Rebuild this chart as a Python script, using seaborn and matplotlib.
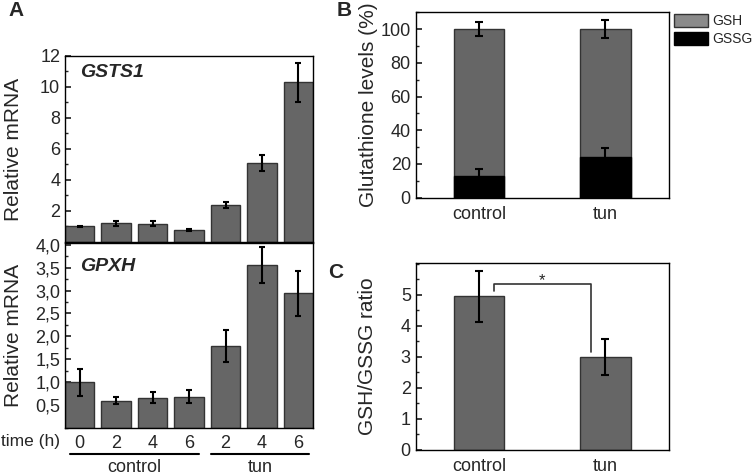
import numpy as np
import pandas as pd
import matplotlib
matplotlib.use("Agg")
import matplotlib.pyplot as plt
import seaborn as sns
from matplotlib.ticker import MultipleLocator, FuncFormatter
from matplotlib.patches import Patch
import matplotlib.transforms as mtransforms

# ----------------------------------------------------------------------
# Data
# ----------------------------------------------------------------------
time_labels = ["0", "2", "4", "6", "2", "4", "6"]
groups = ["control", "control", "control", "control", "tun", "tun", "tun"]

gsts1_mean = [1.0, 1.22, 1.18, 0.79, 2.40, 5.09, 10.3]
gsts1_err = [0.05, 0.16, 0.15, 0.05, 0.18, 0.52, 1.24]

gpxh_mean = [0.99, 0.59, 0.66, 0.68, 1.78, 3.56, 2.94]
gpxh_err = [0.30, 0.08, 0.12, 0.15, 0.35, 0.40, 0.50]

treatments = ["control", "tun"]
gsh_total = [100, 100]
gsh_err = [4.2, 5.2]
gssg_pct = [13.1, 24.2]
gssg_err = [4.0, 5.0]

ratio_mean = [4.95, 3.0]
ratio_err = [0.81, 0.59]

BAR = "#666666"
EDGE = "#333333"

sns.set_theme(style="ticks")
plt.rcParams["font.family"] = ["Liberation Sans", "DejaVu Sans"]
plt.rcParams.update({
    "axes.linewidth": 1.0,
    "axes.edgecolor": "black",
    "xtick.direction": "in",
    "ytick.direction": "in",
    "ytick.major.size": 4,
    "ytick.minor.size": 2,
    "ytick.labelsize": 13,
    "xtick.labelsize": 13,
})

fig = plt.figure(figsize=(7.54, 4.76), dpi=100)
axA1 = fig.add_axes([0.0862, 0.4916, 0.329, 0.3908])
axA2 = fig.add_axes([0.0862, 0.1015, 0.329, 0.3887])
axB = fig.add_axes([0.5513, 0.5847, 0.3355, 0.3895])
axC = fig.add_axes([0.5513, 0.0553, 0.3355, 0.3915])

ids = [f"{g} {t}" for g, t in zip(groups, time_labels)]
x7 = np.arange(len(ids))


def bar_panel(ax, means, errs, label, label_y):
    df = pd.DataFrame({"id": ids, "value": means})
    sns.barplot(data=df, x="id", y="value", order=ids, color=BAR,
                saturation=1, edgecolor=EDGE, linewidth=1, width=0.8,
                errorbar=None, ax=ax)
    ax.errorbar(x7, means, yerr=errs, fmt="none", ecolor="black",
                elinewidth=1.5, capsize=2.5, capthick=1.5)
    ax.set_xlim(-0.4, 6.4)
    ax.set_xlabel("")
    ax.set_ylabel("Relative mRNA", fontsize=15)
    ax.yaxis.set_label_coords(-0.17, 0.5)
    ax.tick_params(axis="x", length=0)
    ax.text(0.06, label_y, label, transform=ax.transAxes, fontsize=14,
            fontweight="bold", style="italic", va="center")
    for s in ax.spines.values():
        s.set_visible(True)


# A top: GSTS1
bar_panel(axA1, gsts1_mean, gsts1_err, "GSTS1", 0.91)
axA1.set_ylim(0, 12)
axA1.set_yticks([2, 4, 6, 8, 10, 12])
axA1.yaxis.set_minor_locator(MultipleLocator(1))
axA1.set_xticklabels([])

# A bottom: GPXH
bar_panel(axA2, gpxh_mean, gpxh_err, "GPXH", 0.87)
axA2.set_ylim(0, 4.05)
axA2.set_yticks(np.arange(0.5, 4.01, 0.5))
axA2.yaxis.set_minor_locator(MultipleLocator(0.25))
axA2.yaxis.set_major_formatter(FuncFormatter(lambda v, p: f"{v:.1f}".replace(".", ",")))
axA2.set_xticks(x7)
axA2.set_xticklabels(time_labels)
axA2.tick_params(axis="x", pad=5)

trans = mtransforms.blended_transform_factory(axA2.transData, axA2.transAxes)
axA2.text(-0.55, -0.075, "time (h)", transform=trans, ha="right",
          va="center", fontsize=12.5)
for (x0, x1), name in zip([(-0.25, 3.27), (3.6, 6.29)], treatments):
    axA2.plot([x0, x1], [-0.141, -0.141], transform=trans, color="black",
              lw=1.5, clip_on=False)
    axA2.text((x0 + x1) / 2, -0.215, name, transform=trans, ha="center",
              va="center", fontsize=13)

# B: glutathione levels, stacked
dfB = pd.DataFrame({"treatment": treatments, "GSH": gsh_total, "GSSG": gssg_pct})
sns.barplot(data=dfB, x="treatment", y="GSH", color=BAR, saturation=1,
            edgecolor=EDGE, linewidth=1, width=0.4, errorbar=None, ax=axB)
sns.barplot(data=dfB, x="treatment", y="GSSG", color="black", saturation=1,
            edgecolor="black", linewidth=1, width=0.4, errorbar=None, ax=axB)
axB.errorbar([0, 1], gsh_total, yerr=gsh_err, fmt="none", ecolor="black",
             elinewidth=1.5, capsize=3, capthick=1.5)
axB.errorbar([0, 1], gssg_pct, yerr=gssg_err, fmt="none", ecolor="black",
             elinewidth=1.5, capsize=3, capthick=1.5)
axB.set_xlim(-0.5, 1.5)
axB.set_ylim(0, 110)
axB.set_yticks(np.arange(0, 101, 20))
axB.yaxis.set_minor_locator(MultipleLocator(10))
axB.set_xlabel("")
axB.set_ylabel("Glutathione levels (%)", fontsize=15)
axB.yaxis.set_label_coords(-0.149, 0.5)
axB.tick_params(axis="x", length=0, pad=6)
handles = [Patch(facecolor="#8a8a8a", edgecolor=EDGE, label="GSH"),
           Patch(facecolor="black", edgecolor="black", label="GSSG")]
axB.legend(handles=handles, loc="upper left", bbox_to_anchor=(1.02, 0.99),
           frameon=False, fontsize=10, handlelength=2.45, handleheight=1.0,
           handletextpad=0.3, labelspacing=0.3, borderpad=0, borderaxespad=0)

# C: GSH/GSSG ratio
dfC = pd.DataFrame({"treatment": treatments, "ratio": ratio_mean})
sns.barplot(data=dfC, x="treatment", y="ratio", color=BAR, saturation=1,
            edgecolor=EDGE, linewidth=1, width=0.4, errorbar=None, ax=axC)
axC.errorbar([0, 1], ratio_mean, yerr=ratio_err, fmt="none", ecolor="black",
             elinewidth=1.5, capsize=3, capthick=1.5)
axC.set_xlim(-0.5, 1.5)
axC.set_ylim(0, 6.02)
axC.set_yticks(range(0, 6))
axC.yaxis.set_minor_locator(MultipleLocator(0.5))
axC.set_xlabel("")
axC.set_ylabel("GSH/GSSG ratio", fontsize=15)
axC.yaxis.set_label_coords(-0.153, 0.5)
axC.tick_params(axis="x", length=0, pad=6)
axC.plot([0.12, 0.12, 0.885, 0.885], [5.11, 5.34, 5.34, 3.17],
         color="#333333", lw=1.2)
axC.text(0.5, 5.30, "*", ha="center", va="baseline", fontsize=12)

for ax in (axB, axC):
    for s in ax.spines.values():
        s.set_visible(True)

# panel letters
fig.text(8 / 754, 1 - 10 / 476, "A", fontsize=15, fontweight="bold", va="center")
fig.text(337 / 754, 1 - 10 / 476, "B", fontsize=15, fontweight="bold", va="center")
fig.text(328 / 754, 1 - 272 / 476, "C", fontsize=15, fontweight="bold", va="center")

fig.savefig("out.png", dpi=100)
